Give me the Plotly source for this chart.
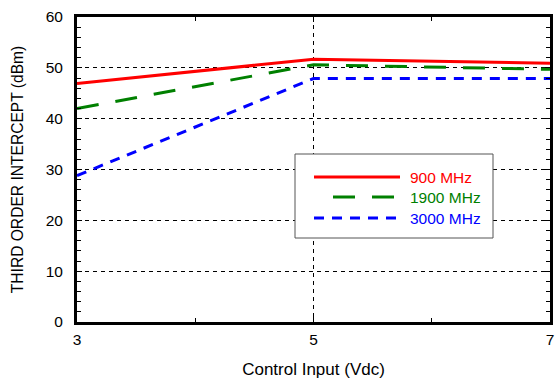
import plotly.graph_objects as go

# Data
control_input = [3, 5, 7]
toi_900 = [46.9, 51.7, 50.9]
toi_1900 = [42.0, 50.6, 49.7]
toi_3000 = [28.8, 47.9, 47.9]
series_names = ["900 MHz", "1900 MHz", "3000 MHz"]
x_ticks = [3, 5, 7]

W, H = 556, 381
# plot area in page pixels: x 77..550, y 17..322
L, R, T, B = 77, 6, 17, 59
PW, PH = W - L - R, H - T - B


def px(x):
    return (x - L) / PW


def py(y):
    return (H - B - y) / PH


FONT = "Liberation Sans, Arial, sans-serif"
styles = [
    dict(color="#ff0000", width=3, dash="solid"),
    dict(color="#008000", width=3, dash="22px,17px"),
    dict(color="#0000ff", width=3, dash="10px,8px"),
]

fig = go.Figure()
for name, ys, st in zip(series_names, [toi_900, toi_1900, toi_3000], styles):
    fig.add_trace(go.Scatter(x=control_input, y=ys, mode="lines", name=name,
                             line=st, showlegend=False))

axis_common = dict(
    showline=True, linewidth=3, linecolor="black", mirror="allticks",
    ticks="inside", ticklen=5, tickcolor="black", tickwidth=1,
    showgrid=True, gridcolor="black", gridwidth=1, griddash="4px,4px",
    zeroline=False, automargin=False, ticklabeloverflow="allow",
    tickfont=dict(family=FONT, size=15.5, color="black"),
)

fig.update_xaxes(range=[3, 7], tickvals=x_ticks, title_text="Control Input (Vdc)",
                 title_font=dict(family=FONT, size=17, color="black"),
                 minor=dict(dtick=1, ticks="inside", ticklen=4, tickcolor="black", showgrid=False),
                 ticklabelstandoff=1, title_standoff=17, **axis_common)
fig.update_yaxes(range=[0, 60], dtick=10, title_text="THIRD ORDER INTERCEPT (dBm)",
                 title_font=dict(family=FONT, size=15.6, color="black"),
                 minor=dict(dtick=2, ticks="inside", ticklen=4, tickcolor="black", showgrid=False),
                 ticklabelstandoff=8, title_standoff=19, **axis_common)

# Custom legend box
shapes = [dict(type="rect", xref="paper", yref="paper",
               x0=px(295), x1=px(493), y0=py(238), y1=py(154),
               line=dict(color="#555555", width=1), fillcolor="white", layer="above")]
legend_rows = [(177, 314, 400), (197, 333, 400), (218, 314, 400)]
annotations = []
for (yy, xa, xb), name, st in zip(legend_rows, series_names, styles):
    shapes.append(dict(type="line", xref="paper", yref="paper",
                       x0=px(xa), x1=px(xb), y0=py(yy), y1=py(yy),
                       line=dict(color=st["color"], width=3, dash=st["dash"]), layer="above"))
    annotations.append(dict(xref="paper", yref="paper", x=px(408), y=py(yy),
                            xanchor="left", yanchor="middle", showarrow=False,
                            text=name, font=dict(family=FONT, size=15.5, color=st["color"])))

fig.update_layout(
    width=W, height=H, autosize=False,
    margin=dict(l=L, r=R, t=T, b=B),
    paper_bgcolor="white", plot_bgcolor="white",
    font=dict(family=FONT, size=15, color="black"),
    shapes=shapes, annotations=annotations, showlegend=False,
)

fig.write_html("out.html", config={"displayModeBar": False},
               post_script="document.body.style.margin='0';document.body.style.overflow='hidden';")
